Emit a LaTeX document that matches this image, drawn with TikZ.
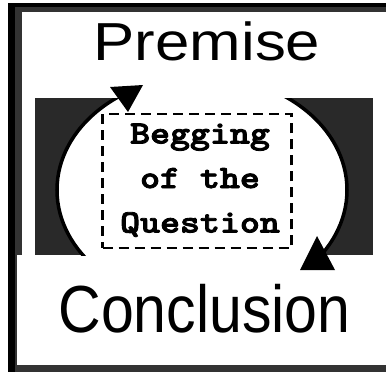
\documentclass[tikz,border=0pt]{standalone}
\usepackage{fontspec}
\usepackage{graphicx}
\newfontfamily\premfont{Liberation Sans}
\newfontfamily\qmono{lmmonolt10-bold}[Extension=.otf, FakeBold=2.5]
\definecolor{framegray}{gray}{0.2}
\definecolor{darkfill}{gray}{0.16}
\begin{document}
\begin{tikzpicture}[x=1pt,y=-1pt,
  bigtext/.style={inner sep=0pt, anchor=base, text=black},
  qbox/.style={draw, line width=2.3pt, dash pattern=on 10pt off 6pt, minimum width=189pt, minimum height=134pt, inner sep=0pt},
  cycleline/.style={line width=3.5pt, black},
  arrowtip/.style={fill=black}]
\useasboundingbox (0,0) rectangle (386,372);
% frame
\fill[black] (8,3) rectangle (386,7);
\fill[black] (8,3) rectangle (15,372);
\fill[framegray] (15,7) rectangle (386,12);
\fill[framegray] (15,7) rectangle (22,255);
\fill[framegray] (15,255) rectangle (17,372);
\fill[framegray] (15,365) rectangle (386,372);
% dark panel with white oval
\fill[darkfill] (35,98) rectangle (373,255);
\coordinate (c) at (202,190);
\fill[white] (c) ellipse [x radius=145pt, y radius=114pt];
\begin{scope}
  \clip (35,98) rectangle (373,255);
  \draw[cycleline] (c) ellipse [x radius=145pt, y radius=114pt];
\end{scope}
% arrow heads
\fill[arrowtip] (110,87) -- (143,85) -- (128,112) -- cycle;
\fill[arrowtip] (300,270) -- (335,270) -- (317,236) -- cycle;
% dashed box and its text
\node[qbox] (box) at (197,181.3) {};
\node[bigtext] (q) at (200,143.5) {\scalebox{1.17}[1]{\qmono\fontsize{32.5}{44.5}\selectfont\begin{tabular}[t]{@{}c@{}}Begging\\of the\\Question\end{tabular}}};
% labels
\node[bigtext] (premise) at (207,60) {\scalebox{1.155}[1]{\premfont\fontsize{53.5}{60}\selectfont Premise}};
\node[bigtext] (conclusion) at (204.5,332) {\scalebox{0.886}[1]{\premfont\fontsize{66.6}{70}\selectfont Conclusion}};
\end{tikzpicture}
\end{document}
